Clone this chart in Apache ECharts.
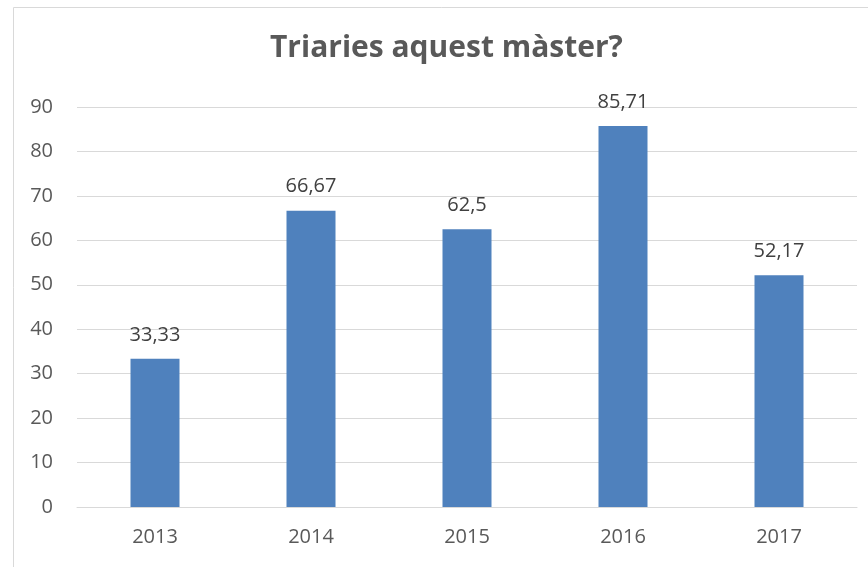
<!DOCTYPE html>
<html>
<head>
<meta charset="utf-8">
<script src="https://cdn.jsdelivr.net/npm/echarts@6/dist/echarts.min.js"></script>
<style>
  html, body { margin: 0; padding: 0; background: #fff; }
  #chart { width: 868px; height: 567px; }
</style>
</head>
<body>
<div id="chart"></div>
<script>
// dades del gràfic
var years = ['2013', '2014', '2015', '2016', '2017'];
var values = [33.33, 66.67, 62.5, 85.71, 52.17];
var yTicks = { min: 0, max: 90, interval: 10 };

var chart = echarts.init(document.getElementById('chart'));

chart.setOption({
    animation: false,
    textStyle: { fontFamily: '"Open Sans", sans-serif' },
    title: {
        text: 'Triaries aquest màster?',
        left: 265,
        top: 28,
        textStyle: { fontSize: 30, fontWeight: 'bold', color: '#595959' }
    },
    graphic: [{
        type: 'rect',
        shape: { x: 13.5, y: 7.5, width: 900, height: 600 },
        style: { fill: 'none', stroke: '#d9d9d9', lineWidth: 1 },
        silent: true
    }],
    grid: { left: 77, right: 11, top: 107, bottom: 60 },
    xAxis: {
        type: 'category',
        data: years,
        axisLine: { lineStyle: { color: '#d9d9d9', width: 1 } },
        axisTick: { show: false },
        axisLabel: { fontSize: 20, color: '#595959', margin: 20 }
    },
    yAxis: {
        type: 'value',
        min: yTicks.min,
        max: yTicks.max,
        interval: yTicks.interval,
        axisLine: { show: false },
        axisTick: { show: false },
        splitLine: { lineStyle: { color: '#d9d9d9', width: 1 } },
        axisLabel: { fontSize: 20, color: '#595959', margin: 24 }
    },
    series: [{
        type: 'bar',
        data: values,
        barWidth: 49,
        itemStyle: { color: '#4f81bd' },
        label: {
            show: true,
            position: 'top',
            distance: 14,
            fontSize: 20,
            color: '#404040',
            formatter: function (p) {
                return String(p.value).replace('.', ',');
            }
        }
    }]
});
</script>
</body>
</html>
